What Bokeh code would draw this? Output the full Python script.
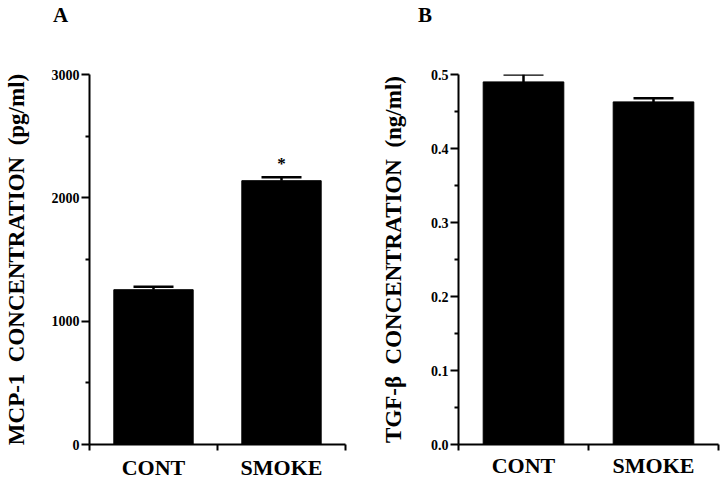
from bokeh.plotting import figure
from bokeh.models import (ColumnDataSource, Range1d, FixedTicker, Whisker, TeeHead,
                          Div, PrintfTickFormatter)
from bokeh.layouts import row, column
from bokeh.embed import file_html
from bokeh.resources import INLINE
from bokeh.core.properties import value

# ---- data ----
categories = ["CONT", "SMOKE"]
mcp1_mean = [1255, 2139]
mcp1_sem = [25, 28]
tgfb_mean = [0.490, 0.463]
tgfb_sem = [0.010, 0.005]
mcp1_ticks = [0, 1000, 2000, 3000]
mcp1_minor = [500, 1500, 2500]
tgfb_ticks = [0.0, 0.1, 0.2, 0.3, 0.4, 0.5]
tgfb_minor = [0.05, 0.15, 0.25, 0.35, 0.45]
significant = ["", "*"]
panel_letters = ["A", "B"]

FONT = "Liberation Serif"
NB = "\u00a0\u00a0"
HEAD = 30
H = 482 - HEAD
xpos = [i + 0.5 for i in range(len(categories))]


def letter_div(letter, pad_left):
    html = ('<div style="padding:5px 0 0 %dpx; font-family:\'Liberation Serif\'; '
            'font-size:21px; font-weight:bold; line-height:21px; color:black;">%s</div>'
            % (pad_left, letter))
    return Div(text=html, width=360, height=HEAD, margin=0)


def panel(means, sems, ymax, yticks, yminor, ylabel, width, left, right,
          top, bottom, label_standoff, x_standoff, fmt=None, stars=None):
    src = ColumnDataSource(dict(x=xpos, top=means,
                                upper=[m + s for m, s in zip(means, sems)],
                                lower=list(means)))
    p = figure(width=width, height=H, output_backend="svg", toolbar_location=None,
               x_range=Range1d(0, len(categories)), y_range=Range1d(0, ymax),
               min_border_left=left, min_border_right=right,
               min_border_top=top, min_border_bottom=bottom)
    p.outline_line_color = None
    p.xgrid.visible = False
    p.ygrid.visible = False
    p.vbar(x="x", top="top", width=0.62, source=src, fill_color="black", line_color="black")
    p.add_layout(Whisker(base="x", upper="upper", lower="lower", source=src,
                         dimension="height", line_width=2.5, line_color="black",
                         upper_head=TeeHead(size=40, line_width=2.5, line_color="black"),
                         lower_head=None))
    if stars:
        ssrc = ColumnDataSource(dict(x=xpos, y=src.data["upper"], t=stars))
        p.text(x="x", y="y", text="t", source=ssrc, text_align="center",
               text_baseline="bottom", y_offset=-4, text_font=value(FONT),
               text_font_style="bold", text_font_size="17px", text_color="black")

    xa = p.xaxis[0]
    xa.ticker = FixedTicker(ticks=xpos, minor_ticks=list(range(len(categories) + 1)))
    xa.major_label_overrides = {x: c for x, c in zip(xpos, categories)}
    xa.major_tick_out = 0
    xa.major_tick_in = 0
    xa.minor_tick_out = 6
    xa.minor_tick_in = 0
    xa.minor_tick_line_width = 2
    xa.axis_line_width = 2
    xa.major_label_standoff = x_standoff
    xa.major_label_text_font = FONT
    xa.major_label_text_font_style = "bold"
    xa.major_label_text_font_size = "22px"
    xa.major_label_text_color = "black"

    ya = p.yaxis[0]
    ya.ticker = FixedTicker(ticks=yticks, minor_ticks=yminor)
    if fmt:
        ya.formatter = PrintfTickFormatter(format=fmt)
    ya.major_tick_out = 8
    ya.major_tick_in = 0
    ya.minor_tick_out = 4
    ya.minor_tick_in = 0
    ya.major_tick_line_width = 2
    ya.minor_tick_line_width = 2
    ya.axis_line_width = 2
    ya.major_label_standoff = 2
    ya.major_label_text_font = FONT
    ya.major_label_text_font_style = "bold"
    ya.major_label_text_font_size = "14px"
    ya.major_label_text_color = "black"
    ya.axis_label = ylabel
    ya.axis_label_standoff = label_standoff
    ya.axis_label_text_font = FONT
    ya.axis_label_text_font_style = "bold"
    ya.axis_label_text_font_size = "23px"
    ya.axis_label_text_color = "black"
    return p


pA = panel(mcp1_mean, mcp1_sem, 3000, mcp1_ticks, mcp1_minor,
           "MCP-1" + NB + "CONCENTRATION" + NB + "(pg/ml)", 360, 89, 15,
           72 - HEAD, 37, 20, 4, stars=significant)
pB = panel(tgfb_mean, tgfb_sem, 0.5, tgfb_ticks, tgfb_minor,
           "TGF-β" + NB + "CONCENTRATION" + NB + "(ng/ml)", 360, 98, 2,
           74 - HEAD, 35, 22, 2, fmt="%.1f")

layout = column(row(letter_div(panel_letters[0], 53), letter_div(panel_letters[1], 58),
                    spacing=0),
                row(pA, pB, spacing=0), spacing=0)
open("out.html", "w").write(file_html(layout, INLINE))
